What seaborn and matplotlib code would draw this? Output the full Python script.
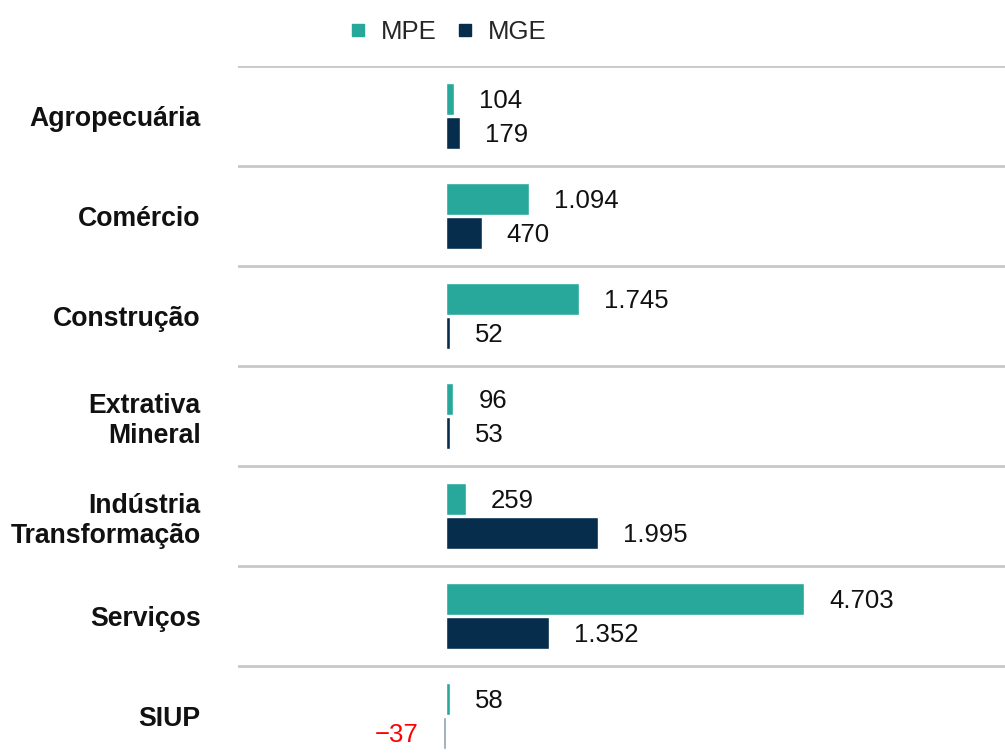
import pandas as pd
import matplotlib
matplotlib.use("Agg")
import matplotlib.pyplot as plt
import seaborn as sns
from matplotlib.lines import Line2D

# data
setores = ["Agropecuária", "Comércio", "Construção", "Extrativa\nMineral",
           "Indústria\nTransformação", "Serviços", "SIUP"]
mpe = [104, 1094, 1745, 96, 259, 4703, 58]
mge = [179, 470, 52, 53, 1995, 1352, -37]
grupos = ["MPE", "MGE"]

cor_mpe = "#27a89b"
cor_mge = "#062d4c"
cor_neg = "#8da1b0"

df = pd.DataFrame({
    "setor": setores * 2,
    "grupo": ["MPE"] * len(setores) + ["MGE"] * len(setores),
    "valor": mpe + mge,
})

sns.set_theme(style="white")
plt.rcParams["font.family"] = ["Liberation Sans", "DejaVu Sans"]

fig = plt.figure(figsize=(10.05, 7.56), dpi=100)
ax = fig.add_axes([238 / 1005, 0, 767 / 1005, 690 / 756])

sns.barplot(data=df, y="setor", x="valor", hue="grupo", hue_order=grupos,
            order=setores, orient="h", palette=[cor_mpe, cor_mge],
            saturation=1, width=0.68, gap=0.06, legend=False, ax=ax)

ax.set_xlim(-2733, 7345)
ax.set_ylim(6.4, -0.5)

# value labels
for cont in ax.containers:
    for bar, v in zip(cont.patches, cont.datavalues):
        y = bar.get_y() + bar.get_height() / 2
        txt = f"{abs(int(v)):,}".replace(",", ".")
        if v < 0:
            bar.set_facecolor(cor_neg)
            ax.annotate("\u2212" + txt, (v, y), xytext=(-18, -1.5),
                        textcoords="offset points", ha="right", va="center",
                        fontsize=18.5, color="#ff0000")
        else:
            ax.annotate(txt, (v, y), xytext=(18, -1.5),
                        textcoords="offset points", ha="left", va="center",
                        fontsize=18.5, color="#111111")

# separators between categories
for k in range(len(setores) + 1):
    ax.axhline(k - 0.5, color="#c8c8c8", lw=2, zorder=0)

ax.set_xlabel("")
ax.set_ylabel("")
ax.set_xticks([])
ax.tick_params(axis="y", length=0, pad=27)
for lab in ax.get_yticklabels():
    lab.set_fontsize(19.2)
    lab.set_fontweight("bold")
    lab.set_multialignment("right")
    lab.set_color("#111111")
sns.despine(ax=ax, left=True, bottom=True)

handles = [Line2D([], [], marker="s", ls="", markersize=8, color=cor_mpe),
           Line2D([], [], marker="s", ls="", markersize=8, color=cor_mge)]
fig.legend(handles, grupos, loc="center", bbox_to_anchor=(446 / 1005, 1 - 32 / 756),
           ncol=2, frameon=False, fontsize=18.5, handletextpad=0.4,
           columnspacing=0.6, handlelength=1.0)

fig.savefig("out.png", dpi=100)
